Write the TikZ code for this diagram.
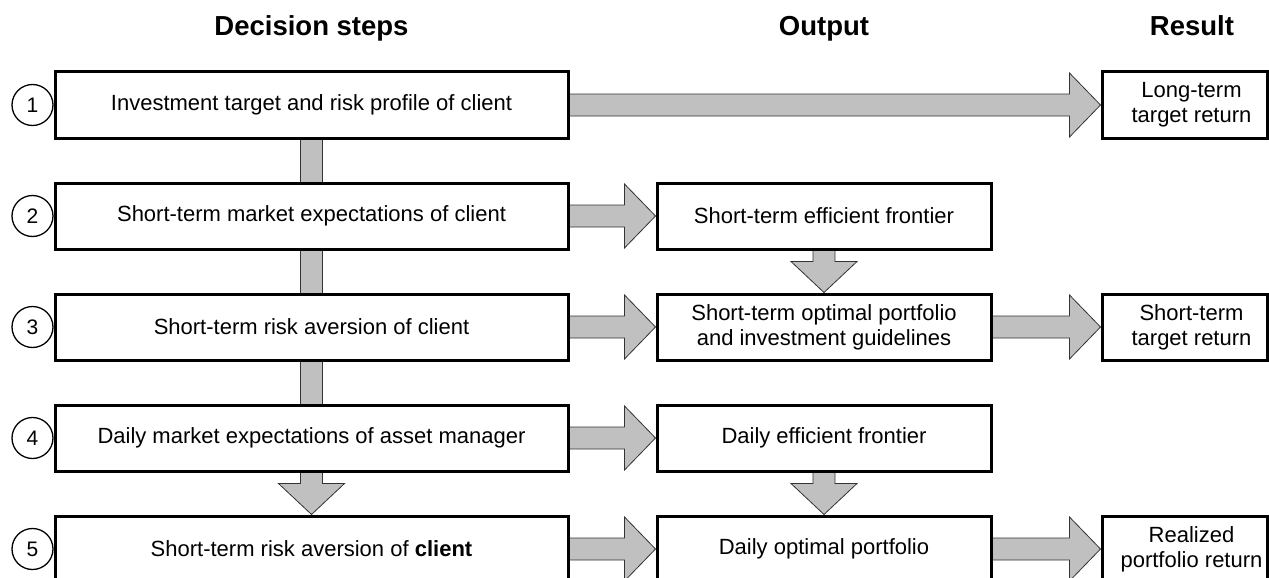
\documentclass[tikz,border=0pt]{standalone}
\usepackage{fontspec}
\setmainfont{Liberation Sans}
\usetikzlibrary{calc}
\definecolor{arrowgray}{RGB}{192,192,192}
\pgfdeclarelayer{bg}
\pgfsetlayers{bg,main}
\tikzset{
  box/.style={draw=black, line width=3pt, fill=white, minimum height=66pt,
    inner sep=0pt, align=center, font=\fontsize{22}{25}\selectfont},
  lbox/.style={box, minimum width=513pt},
  mbox/.style={box, minimum width=334pt},
  rbox/.style={box, minimum width=165pt},
  num/.style={circle, draw=black, line width=1.3pt, fill=white, minimum size=41pt,
    inner sep=0pt, font=\fontsize{21}{21}\selectfont},
  head/.style={font=\bfseries\fontsize{27.5}{30}\selectfont, anchor=base},
  blk/.style={fill=arrowgray, draw=black!80, line width=0.8pt, line join=miter},
}
\newcommand\hblk[2]{%
  \path[blk] let \p1=(#1.east), \p2=(#2.west) in
    (\x1-2pt,\y1+11pt) -- (\x2-31pt,\y1+11pt) -- (\x2-31pt,\y1+32pt) -- (\x2,\y1)
    -- (\x2-31pt,\y1-32pt) -- (\x2-31pt,\y1-11pt) -- (\x1-2pt,\y1-11pt) -- cycle;}
\newcommand\vblk[2]{%
  \path[blk] let \p1=(#1.south), \p2=(#2.north) in
    (\x1-11pt,\y1+2pt) -- (\x1-11pt,\y2+31pt) -- (\x1-33pt,\y2+31pt) -- (\x1,\y2)
    -- (\x1+33pt,\y2+31pt) -- (\x1+11pt,\y2+31pt) -- (\x1+11pt,\y1+2pt) -- cycle;}
\newcommand\vbar[2]{%
  \path[blk] let \p1=(#1.south), \p2=(#2.north) in
    (\x1-11pt,\y1+2pt) rectangle (\x1+11pt,\y2-2pt);}
\begin{document}
\begin{tikzpicture}[x=1pt, y=-1pt]
\useasboundingbox (0,0) rectangle (1269,578);
% headers
\node[head] (h1) at (311.5,36) {Decision steps};
\node[head] (h2) at (824,36) {Output};
\node[head] (h3) at (1192,36) {Result};
% decision boxes
\node[lbox] (b1) at (311.5,105) {Investment target and risk profile of client};
\node[lbox] (b2) at (311.5,216) {Short-term market expectations of client};
\node[lbox] (b3) at (311.5,327) {Short-term risk aversion of client};
\node[lbox] (b4) at (311.5,438) {Daily market expectations of asset manager};
\node[lbox] (b5) at (311.5,549) {Short-term risk aversion of \textbf{client}};
% numbers
\node[num] (n1) at (32.5,105) {1};
\node[num] (n2) at (32.5,216) {2};
\node[num] (n3) at (32.5,327) {3};
\node[num] (n4) at (32.5,438) {4};
\node[num] (n5) at (32.5,549) {5};
% outputs
\node[mbox] (m2) at (824,216) {Short-term efficient frontier};
\node[mbox] (m3) at (824,327) {Short-term optimal portfolio\\and investment guidelines};
\node[mbox] (m4) at (824,438) {Daily efficient frontier};
\node[mbox] (m5) at (824,549) {Daily optimal portfolio};
% results
\node[rbox] (r1) at (1184.5,105) {\hspace*{14pt}Long-term\\\hspace*{14pt}target return};
\node[rbox] (r3) at (1184.5,327) {\hspace*{14pt}Short-term\\\hspace*{14pt}target return};
\node[rbox] (r5) at (1184.5,549) {\hspace*{14pt}Realized\\\hspace*{14pt}portfolio return};
% connectors
\begin{pgfonlayer}{bg}
\hblk{b1}{r1}
\vbar{b1}{b2}
\vbar{b2}{b3}
\vbar{b3}{b4}
\vblk{b4}{b5}
\hblk{b2}{m2}
\vblk{m2}{m3}
\hblk{b3}{m3}
\hblk{m3}{r3}
\hblk{b4}{m4}
\vblk{m4}{m5}
\hblk{b5}{m5}
\hblk{m5}{r5}
\end{pgfonlayer}
\end{tikzpicture}
\end{document}
